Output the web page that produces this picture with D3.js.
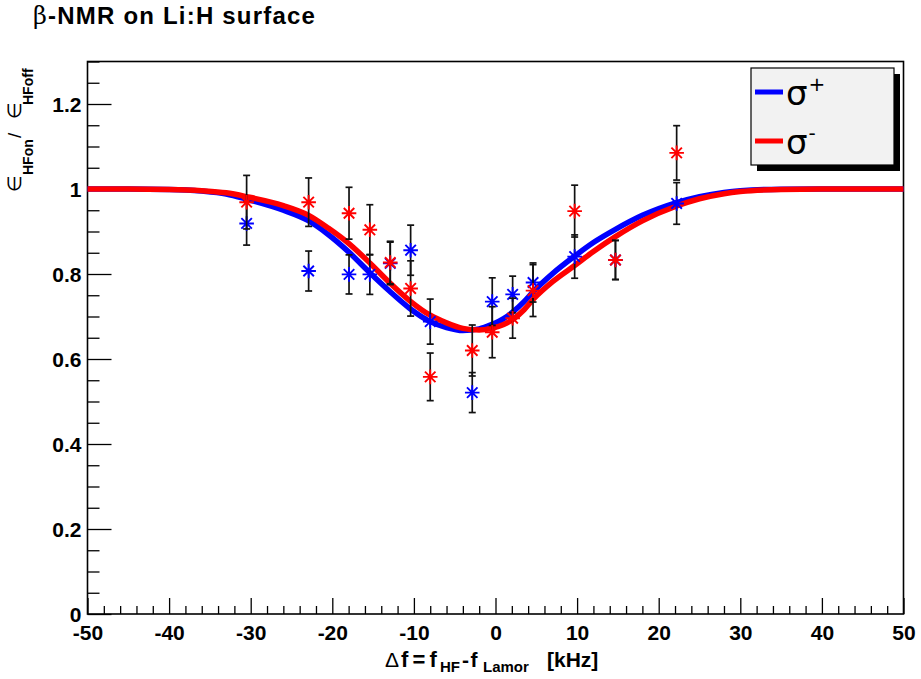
<!DOCTYPE html>
<html><head><meta charset="utf-8">
<script src="https://cdn.jsdelivr.net/npm/d3@7"></script>
<style>body{margin:0;background:#fff}svg{display:block}</style>
</head><body>
<script>
// ---- data ----
const pointX   = [-30.5, -22.9, -17.95, -15.4, -12.9, -10.4, -8.0, -2.85, -0.4, 2.1, 4.6, 9.7, 14.7, 22.2];
const sigPlus  = [0.919, 0.807, 0.799, 0.799, 0.825, 0.856, 0.688, 0.521, 0.735, 0.752, 0.780, 0.841, 0.833, 0.966];
const sigPlusErr  = [0.051, 0.047, 0.046, 0.047, 0.050, 0.059, 0.053, 0.047, 0.056, 0.043, 0.046, 0.051, 0.046, 0.049];
const sigMinus = [0.969, 0.969, 0.943, 0.904, 0.827, 0.766, 0.558, 0.620, 0.663, 0.696, 0.761, 0.948, 0.833, 1.085];
const sigMinusErr = [0.063, 0.057, 0.061, 0.059, 0.050, 0.065, 0.056, 0.060, 0.060, 0.047, 0.061, 0.061, 0.046, 0.064];

const fitX     = [-50, -45, -40, -36, -33, -30.5, -26, -23, -20.5, -18, -15.4, -13, -10.5, -8, -6, -4, -2, -0.5, 1, 2.2, 3.5, 4.7, 7, 9.7, 12, 14.7, 18, 22.2, 25, 28, 30, 35, 40, 50];
const fitPlus  = [1.0, 1.0, 0.999, 0.995, 0.988, 0.976, 0.950, 0.926, 0.893, 0.852, 0.803, 0.760, 0.719, 0.688, 0.674, 0.667, 0.671, 0.681, 0.695, 0.712, 0.735, 0.760, 0.801, 0.842, 0.874, 0.905, 0.938, 0.968, 0.982, 0.992, 0.996, 0.9995, 1.0, 1.0];
const fitMinus = [1.0, 1.0, 0.999, 0.996, 0.991, 0.982, 0.961, 0.939, 0.908, 0.872, 0.826, 0.780, 0.737, 0.703, 0.685, 0.672, 0.668, 0.672, 0.681, 0.694, 0.716, 0.742, 0.782, 0.820, 0.853, 0.888, 0.925, 0.960, 0.977, 0.989, 0.994, 0.999, 1.0, 1.0];

const xTicks = [-50, -40, -30, -20, -10, 0, 10, 20, 30, 40, 50];
const yTicks = [0, 0.2, 0.4, 0.6, 0.8, 1, 1.2];
const seriesNames = ["+", "-"];
const seriesColors = ["#0000ff", "#ff0000"];

// ---- layout ----
const W = 921, H = 679;
const L = 87.5, R = 903.5, T = 61.5, B = 614;
const svg = d3.select("body").append("svg").attr("width", W).attr("height", H);
svg.append("rect").attr("width", W).attr("height", H).attr("fill", "#fff");

const x = d3.scaleLinear().domain([-50, 50]).range([L, R]);
const y = d3.scaleLinear().domain([0, 1.3]).range([B, T]);

const FONT = "'Liberation Sans', Arial, Helvetica, sans-serif";

// minor ticks
const xMinor = d3.range(-50, 50.001, 2).filter(v => !xTicks.includes(v));
const yMinor = d3.range(0, 1.3001, 0.05).map(v => +v.toFixed(2)).filter(v => !yTicks.some(t => Math.abs(t - v) < 1e-9));

svg.append("g").attr("transform", `translate(0,${B})`)
  .call(d3.axisBottom(x).tickValues(xMinor).tickSize(-8).tickFormat(""))
  .call(g => g.select(".domain").remove())
  .call(g => g.selectAll("line").attr("stroke", "#000").attr("stroke-width", 1.3));
svg.append("g").attr("transform", `translate(${L},0)`)
  .call(d3.axisLeft(y).tickValues(yMinor).tickSize(-12).tickFormat(""))
  .call(g => g.select(".domain").remove())
  .call(g => g.selectAll("line").attr("stroke", "#000").attr("stroke-width", 1.3));

const xa = svg.append("g").attr("transform", `translate(0,${B})`)
  .call(d3.axisBottom(x).tickValues(xTicks).tickSize(-16).tickPadding(11).tickFormat(d => String(d)));
xa.select(".domain").remove();
xa.selectAll("line").attr("stroke", "#000").attr("stroke-width", 1.3);
xa.selectAll("text").attr("font-family", FONT).attr("font-weight", "bold").attr("font-size", 21).attr("fill", "#000");

const ya = svg.append("g").attr("transform", `translate(${L},0)`)
  .call(d3.axisLeft(y).tickValues(yTicks).tickSize(-24).tickPadding(6).tickFormat(d => String(d)));
ya.select(".domain").remove();
ya.selectAll("line").attr("stroke", "#000").attr("stroke-width", 1.3);
ya.selectAll("text").attr("font-family", FONT).attr("font-weight", "bold").attr("font-size", 21).attr("fill", "#000").attr("dy", "0.36em");

// frame
svg.append("rect").attr("x", L).attr("y", T).attr("width", R - L).attr("height", B - T)
  .attr("fill", "none").attr("stroke", "#000").attr("stroke-width", 1.6);

// fit curves
const line = d3.line().curve(d3.curveMonotoneX);
[fitPlus, fitMinus].forEach((vals, i) => {
  svg.append("path")
    .attr("d", line(fitX.map((xv, k) => [x(xv), y(vals[k])])))
    .attr("fill", "none").attr("stroke", seriesColors[i]).attr("stroke-width", 5.5);
});

// data points
const series = [[sigPlus, sigPlusErr], [sigMinus, sigMinusErr]];
const star = r => {
  const d = r * 0.72;
  return `M${-r},0H${r}M0,${-r}V${r}M${-d},${-d}L${d},${d}M${-d},${d}L${d},${-d}`;
};
series.forEach(([vals, errs], i) => {
  const g = svg.append("g");
  pointX.forEach((xv, k) => {
    const px = x(xv), y0 = y(vals[k] - errs[k]), y1 = y(vals[k] + errs[k]);
    g.append("line").attr("x1", px).attr("x2", px).attr("y1", y0).attr("y2", y1)
      .attr("stroke", "#111").attr("stroke-width", 1.7);
    [y0, y1].forEach(yy => g.append("line").attr("x1", px - 3.5).attr("x2", px + 3.5).attr("y1", yy).attr("y2", yy)
      .attr("stroke", "#111").attr("stroke-width", 1.7));
  });
  pointX.forEach((xv, k) => {
    g.append("path").attr("d", star(7.3)).attr("transform", `translate(${x(xv)},${y(vals[k])})`)
      .attr("fill", "none").attr("stroke", seriesColors[i]).attr("stroke-width", 1.9);
  });
});

// legend
const lg = svg.append("g");
lg.append("rect").attr("x", 757).attr("y", 74).attr("width", 143).attr("height", 97).attr("fill", "#000");
lg.append("rect").attr("x", 751).attr("y", 68).attr("width", 143).attr("height", 97)
  .attr("fill", "#f2f2f2").attr("stroke", "#000").attr("stroke-width", 1.2);
const legY = [92, 141];
seriesNames.forEach((nm, i) => {
  lg.append("line").attr("x1", 755).attr("x2", 783).attr("y1", legY[i]).attr("y2", legY[i])
    .attr("stroke", seriesColors[i]).attr("stroke-width", 5);
  const t = lg.append("text").attr("x", 786).attr("y", legY[i] + 13)
    .attr("font-family", "'DejaVu Sans', sans-serif").attr("font-size", 34).attr("fill", "#000");
  t.append("tspan").text("σ");
  t.append("tspan").attr("font-size", 20).attr("dy", -14).attr("dx", 1).text(nm);
});

// title
const title = svg.append("text").attr("x", 33).attr("y", 24)
  .attr("font-family", FONT).attr("font-size", 24).attr("font-weight", "bold").attr("fill", "#000")
  .attr("letter-spacing", 1.2);
title.append("tspan").attr("font-weight", "normal").attr("font-family", "'DejaVu Serif', serif").text("β");
title.append("tspan").text("-NMR on Li:H surface");

// x-axis title
const xt = svg.append("text").attr("y", 667)
  .attr("font-family", FONT).attr("font-size", 21).attr("font-weight", "bold").attr("fill", "#000");
xt.append("tspan").attr("x", 385).attr("font-weight", "normal").text("Δ");
xt.append("tspan").attr("x", 401).attr("font-size", 22).attr("letter-spacing", 4.2).text("f=f");
xt.append("tspan").attr("x", 440).attr("font-size", 15).attr("dy", 5).text("HF");
xt.append("tspan").attr("x", 462).attr("dy", -5).attr("letter-spacing", 1.5).text("-f");
xt.append("tspan").attr("x", 483).attr("font-size", 15).attr("dy", 5).text("Lamor");
xt.append("tspan").attr("x", 547).attr("dy", -5).text("[kHz]");

// y-axis title (rotated; local x = -screen y)
const yt = svg.append("text").attr("transform", "translate(21,0) rotate(-90)")
  .attr("font-family", FONT).attr("font-size", 19).attr("fill", "#000");
yt.append("tspan").attr("x", -192).attr("y", 0).text("∈");
yt.append("tspan").attr("x", -175).attr("y", 12).attr("font-size", 14).attr("font-weight", "bold").text("HFon");
yt.append("tspan").attr("x", -138).attr("y", 0).text("/");
yt.append("tspan").attr("x", -119).attr("y", 0).text("∈");
yt.append("tspan").attr("x", -105).attr("y", 12).attr("font-size", 14).attr("font-weight", "bold").text("HFoff");
</script>
</body></html>
